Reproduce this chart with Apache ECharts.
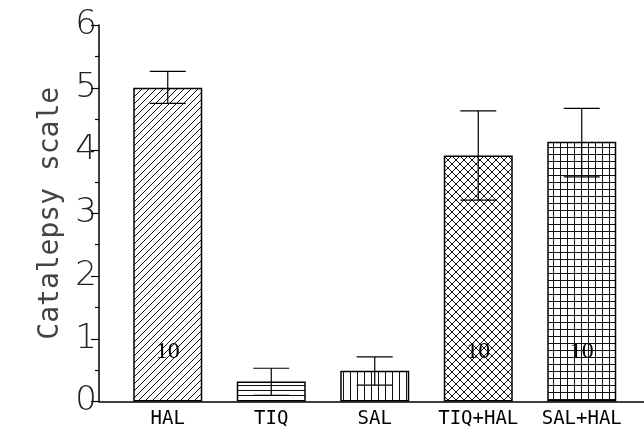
<!DOCTYPE html>
<html>
<head>
<meta charset="utf-8">
<script src="https://cdn.jsdelivr.net/npm/echarts@6/dist/echarts.min.js"></script>
<style>html,body{margin:0;padding:0;background:#fff;}#c{width:644px;height:431px;}</style>
</head>
<body>
<div id="c"></div>
<script>
const categories = ['HAL', 'TIQ', 'SAL', 'TIQ+HAL', 'SAL+HAL'];
const means = [5.0, 0.32, 0.49, 3.92, 4.14];
const errLow = [4.75, 0.10, 0.26, 3.21, 3.58];
const errHigh = [5.26, 0.53, 0.71, 4.63, 4.67];
const nLabels = ['10', '', '', '10', '10'];
const patternTypes = ['diag', 'horiz', 'vert', 'cross', 'grid'];

function makePattern(type) {
  const s = type === 'diag' ? 7 : (type === 'horiz' ? 5 : (type === 'cross' ? 8 : 7));
  const c = document.createElement('canvas');
  c.width = s; c.height = s;
  const g = c.getContext('2d');
  g.fillStyle = '#fff'; g.fillRect(0, 0, s, s);
  g.strokeStyle = '#111'; g.lineWidth = 1;
  g.beginPath();
  if (type === 'diag' || type === 'cross') {
    g.moveTo(-1, s + 1); g.lineTo(s + 1, -1);
    g.moveTo(-1, 1); g.lineTo(1, -1);
    g.moveTo(s - 1, s + 1); g.lineTo(s + 1, s - 1);
  }
  if (type === 'cross') {
    g.moveTo(-1, -1); g.lineTo(s + 1, s + 1);
    g.moveTo(s - 1, -1); g.lineTo(s + 1, 1);
    g.moveTo(-1, s - 1); g.lineTo(1, s + 1);
  }
  if (type === 'horiz' || type === 'grid') {
    g.moveTo(0, 0.5); g.lineTo(s, 0.5);
  }
  if (type === 'vert' || type === 'grid') {
    g.moveTo(0.5, 0); g.lineTo(0.5, s);
  }
  g.stroke();
  return { image: c, repeat: 'repeat' };
}

const chart = echarts.init(document.getElementById('c'), null, { renderer: 'canvas' });

const barData = means.map((v, i) => ({
  value: v,
  itemStyle: { color: makePattern(patternTypes[i]) },
  label: { show: nLabels[i] !== '', formatter: nLabels[i] }
}));

const errData = categories.map((c, i) => [i, errLow[i], errHigh[i]]);

chart.setOption({
  animation: false,
  backgroundColor: '#fff',
  grid: [
    { left: 99, right: 0, top: 25, bottom: 29.5 },
    { left: 116, right: 10.5, top: 25, bottom: 29.5 }
  ],
  xAxis: [
    {
      gridIndex: 0, type: 'value', min: 0, max: 1,
      axisLine: { show: true, lineStyle: { color: '#000', width: 1.5 } },
      axisTick: { show: false }, axisLabel: { show: false }, splitLine: { show: false }
    },
    {
      gridIndex: 1, type: 'category', data: categories,
      axisLine: { show: false }, axisTick: { show: false },
      axisLabel: { interval: 0, hideOverlap: false, margin: 8, fontFamily: 'DejaVu Sans Mono', fontSize: 19, color: '#000' }
    }
  ],
  yAxis: [
    {
      gridIndex: 0, type: 'value', min: 0, max: 6, interval: 1,
      name: 'Catalepsy scale', nameLocation: 'middle', nameGap: 34, nameRotate: 90,
      nameTextStyle: { fontFamily: 'DejaVu Sans Mono', fontSize: 28, color: '#444', fontWeight: 300 },
      axisLine: { show: true, lineStyle: { color: '#000', width: 1.5 } },
      axisTick: { show: true, length: 8, lineStyle: { color: '#000', width: 1.2 } },
      minorTick: { show: true, splitNumber: 2, length: 4, lineStyle: { color: '#000', width: 1.2 } },
      axisLabel: { margin: 2, fontFamily: 'DejaVu Sans', fontSize: 34, fontWeight: 200, color: '#222' },
      splitLine: { show: false }
    },
    {
      gridIndex: 1, type: 'value', min: 0, max: 6, interval: 1, show: false
    }
  ],
  series: [
    {
      type: 'bar', xAxisIndex: 1, yAxisIndex: 1, data: barData, barWidth: 69,
      itemStyle: { borderColor: '#000', borderWidth: 1.5 },
      label: {
        position: 'insideBottom', distance: 38,
        fontFamily: 'Liberation Serif', fontSize: 24, color: '#000'
      }
    },
    {
      type: 'custom', xAxisIndex: 1, yAxisIndex: 1, data: errData, z: 10,
      renderItem: function (params, api) {
        const x = api.value(0);
        const lo = api.coord([x, api.value(1)]);
        const hi = api.coord([x, api.value(2)]);
        const hw = 18;
        const st = { stroke: '#000', lineWidth: 1.2 };
        return {
          type: 'group',
          children: [
            { type: 'line', shape: { x1: hi[0], y1: hi[1], x2: lo[0], y2: lo[1] }, style: st },
            { type: 'line', shape: { x1: hi[0] - hw, y1: hi[1], x2: hi[0] + hw, y2: hi[1] }, style: st },
            { type: 'line', shape: { x1: lo[0] - hw, y1: lo[1], x2: lo[0] + hw, y2: lo[1] }, style: st }
          ]
        };
      }
    }
  ]
});
</script>
</body>
</html>
